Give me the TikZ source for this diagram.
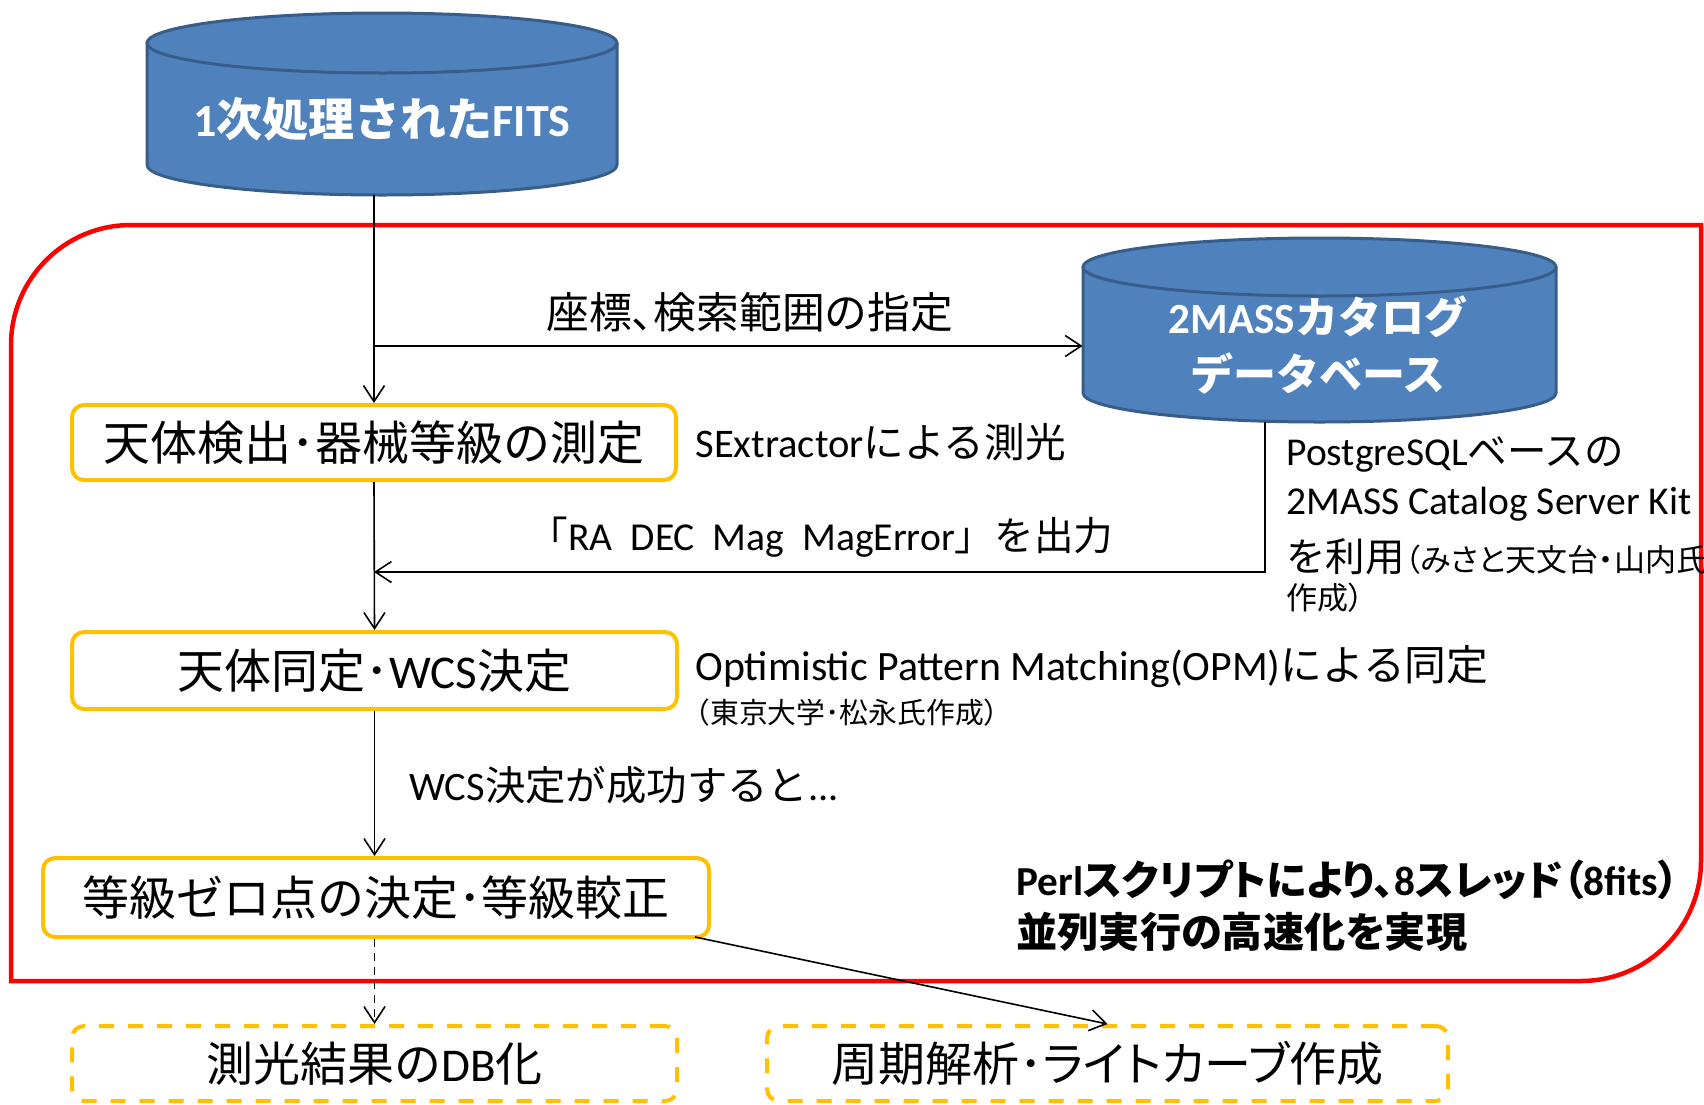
\documentclass[tikz,border=0pt]{standalone}
\usepackage{fontspec}
\setmainfont{Noto Sans CJK JP}
\newfontfamily\lat{Carlito}
\newfontfamily\jpp[RawFeature=+palt]{Noto Sans CJK JP}
\usetikzlibrary{arrows.meta}
\newcommand\La[1]{{\lat #1}}
\newcommand\Pa[1]{{\jpp #1}}
\definecolor{cylblue}{HTML}{4F81BD}
\definecolor{cyledge}{HTML}{385D8A}
\definecolor{boxyel}{HTML}{FFC000}
\definecolor{frred}{HTML}{FF0000}
\begin{document}
\begin{tikzpicture}[x=0.5pt,y=-0.5pt,
  procbox/.style={draw=boxyel, line width=2pt, rounded corners=6pt, fill=white, inner sep=0pt, font=\fontsize{23.5}{28}\selectfont},
  dashbox/.style={procbox, dash pattern=on 7.5pt off 7pt},
  conn/.style={line width=0.8pt, -{Straight Barb[length=8pt,width=10.5pt]}},
  lbl/.style={inner sep=0pt, anchor=west},
  cyltext/.style={inner sep=0pt, text=white, align=center},
]
\useasboundingbox (0,0) rectangle (1704,1104);

% red frame
\draw[frred, line width=2.25pt] (11,981) -- (11,345) arc[start angle=180, end angle=270, radius=120] -- (1701,225) -- (1701,861) arc[start angle=0, end angle=90, radius=120] -- cycle;

% cylinder 1
\fill[cylblue] (147,43) rectangle (617,165);
\fill[cylblue] (382,165) ellipse[x radius=235, y radius=30];
\draw[cyledge, line width=1.5pt] (147,43) -- (147,165) arc[start angle=180, delta angle=-180, x radius=235, y radius=30] -- (617,43);
\draw[cyledge, fill=cylblue, line width=1.5pt] (382,43) ellipse[x radius=235, y radius=30];
\node[inner sep=0pt, minimum width=235pt, minimum height=91pt] (c1) at (382,104) {};
\node[cyltext, font=\fontsize{23}{27}\selectfont\bfseries] (c1t) at (382,119) {\La{1}次処理された\La{FITS}};

% cylinder 2
\fill[cylblue] (1083,267) rectangle (1556,393);
\fill[cylblue] (1319.5,393) ellipse[x radius=236.5, y radius=29];
\draw[cyledge, line width=1.5pt] (1083,267) -- (1083,393) arc[start angle=180, delta angle=-180, x radius=236.5, y radius=29] -- (1556,267);
\draw[cyledge, fill=cylblue, line width=1.5pt] (1319.5,267) ellipse[x radius=236.5, y radius=29];
\node[inner sep=0pt, minimum width=236.5pt, minimum height=92pt] (c2) at (1319.5,330) {};
\node[cyltext, font=\fontsize{21.5}{28.5}\selectfont\bfseries] (c2t) at (1318,345) {\La{2MASS}カタログ\\データベース};

% process boxes
\node[procbox, minimum width=302pt, minimum height=37.5pt] (b1) at (374,442.5) {天体検出･器械等級の測定};
\node[procbox, minimum width=302.5pt, minimum height=38.5pt] (b2) at (374.5,670.5) {天体同定･\La{WCS}決定};
\node[procbox, minimum width=333pt, minimum height=39.5pt] (b3) at (376,897.5) {等級ゼロ点の決定･等級較正};
\node[dashbox, minimum width=302.5pt, minimum height=37.5pt] (b4) at (374.5,1063.5) {測光結果の\La{DB}化};
\node[dashbox, minimum width=340.5pt, minimum height=37.5pt] (b5) at (1107.5,1063.5) {周期解析･\Pa{ライトカーブ}作成};

% connectors
\coordinate (j1) at (374,346);
\coordinate (j2) at (374,572);
\draw[conn] (c1.south -| b1.north) -- (b1.north);
\draw[conn] (j1) -- (j1 -| c2.west);
\draw[conn] (b1.south) -- (b2.north);
\draw[conn] ([xshift=-27.25pt]c2.south) |- (j2);
\draw[conn] (b2.south) -- (b2.south |- b3.north);
\draw[conn, dash pattern=on 4pt off 3pt] (b4.north |- b3.south) -- (b4.north);
\draw[conn] ([xshift=-8pt,yshift=1pt]b3.south east) -- (b5.north);

% labels
\node[inner sep=0pt, font=\fontsize{21.4}{25}\selectfont] (l1) at (750,312) {座標\Pa{、}検索範囲の指定};
\node[lbl, font=\fontsize{20.3}{24}\selectfont] (l2) at (695,442) {\La{SExtractor}による測光};
\node[inner sep=0pt, font=\fontsize{19.8}{24}\selectfont] (l3) at (821,537) {「\La{RA\ \ DEC\ \ Mag\ \ MagError}」を出力};
\node[lbl, font=\fontsize{19.75}{24}\selectfont] (r1) at (1286,454) {\La{PostgreSQL}ベースの};
\node[lbl, font=\fontsize{19.75}{24}\selectfont] (r2) at (1286,504) {\La{2MASS Catalog Server Kit}};
\node[inner sep=0pt, anchor=base west, align=left, font=\fontsize{15.5}{19}\selectfont\jpp] (r3) at (1286,609) {{\fontsize{19.75}{19}\selectfont\normalfont を利用}（みさと天文台・山内氏\\作成）};
\node[lbl, font=\fontsize{20.9}{24}\selectfont] (l4) at (695,667) {\La{Optimistic Pattern Matching(OPM)}による同定};
\node[lbl, font=\fontsize{14.4}{18}\selectfont] (l5) at (681,713) {（東京大学･松永氏作成）};
\node[lbl, font=\fontsize{20.2}{24}\selectfont] (l6) at (409,785) {\La{WCS}決定が成功すると\La{...}};
\node[lbl, align=left, font=\fontsize{20.6}{26}\selectfont\bfseries\jpp] (p1) at (1016,906) {\La{Perl}スクリプトにより、\La{8}スレッド（\La{8fits}）\\並列実行の高速化を実現};
\end{tikzpicture}
\end{document}
